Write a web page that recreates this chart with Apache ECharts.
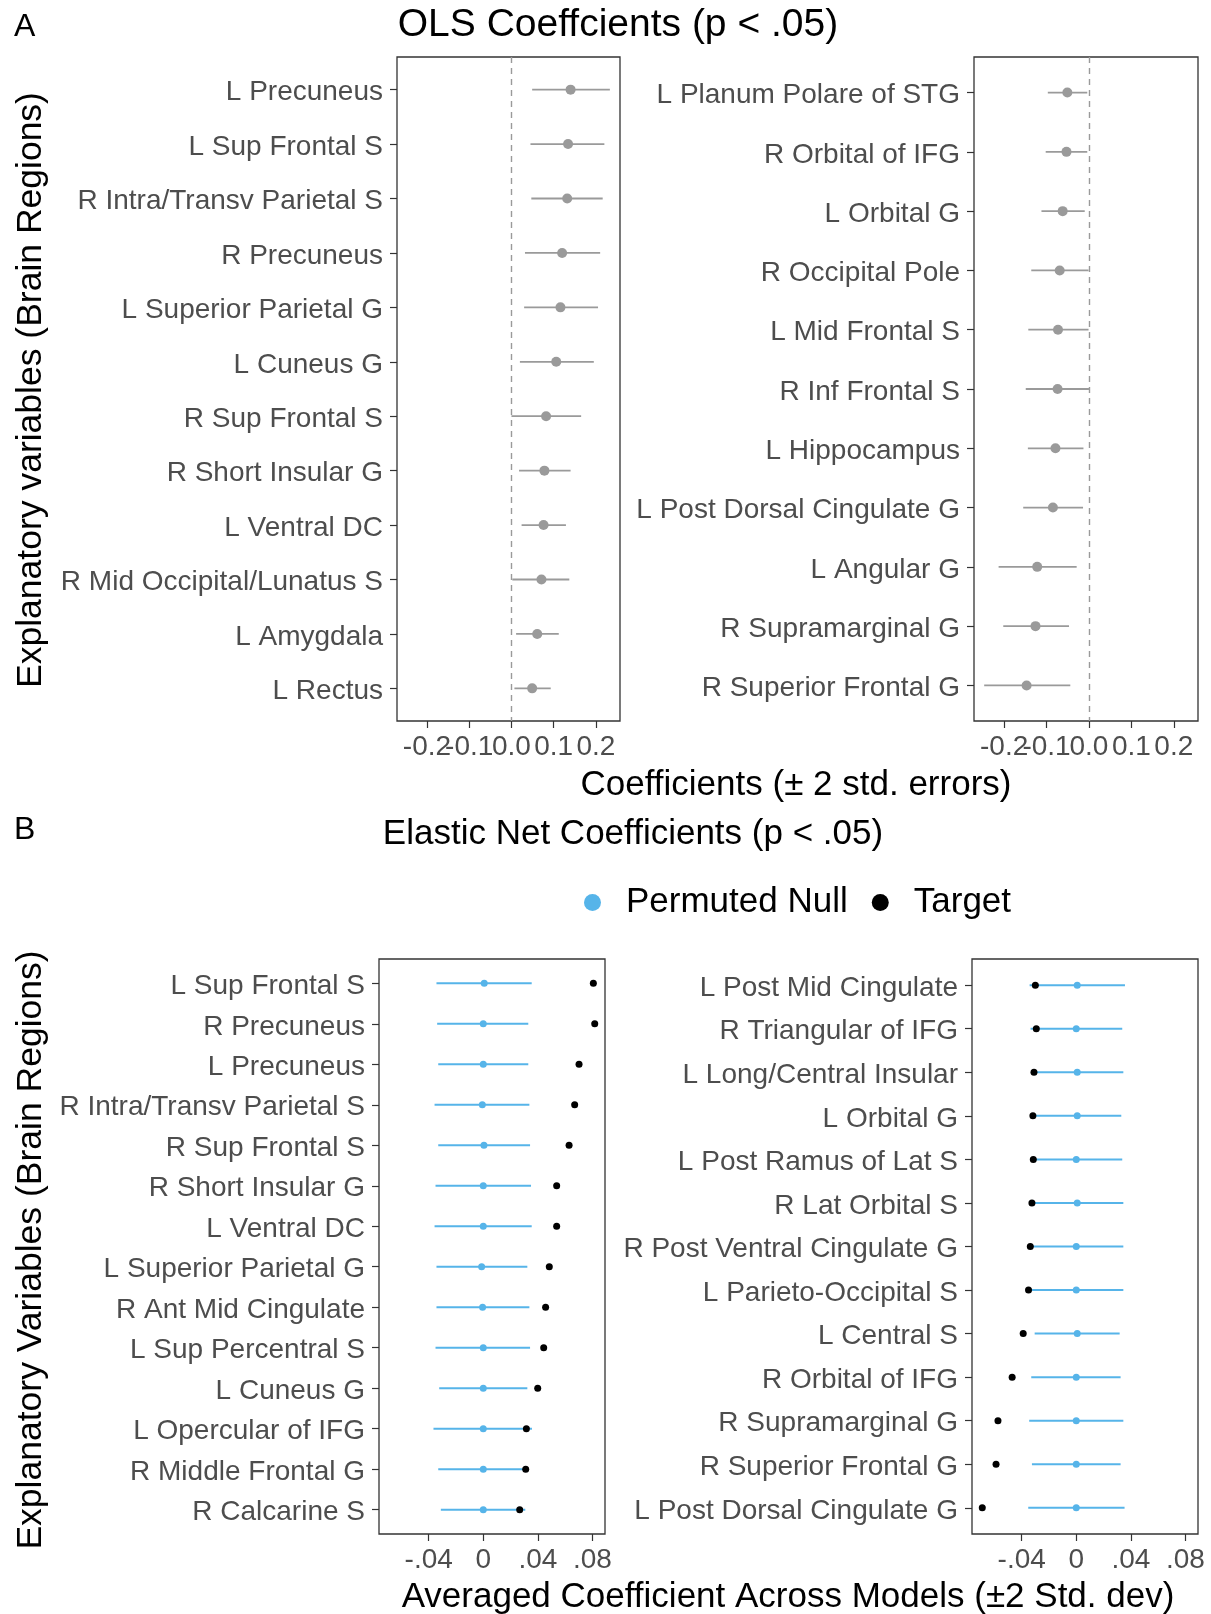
<!DOCTYPE html>
<html>
<head>
<meta charset="utf-8">
<script src="https://cdn.jsdelivr.net/npm/echarts@6/dist/echarts.min.js"></script>
<style>
  html, body { margin: 0; padding: 0; background: #ffffff; }
  #chart { width: 1211px; height: 1614px; }
</style>
</head>
<body>
<div id="chart"></div>
<script>
// ---------- Panel A: OLS coefficients (estimate ± 2 SE) ----------
const olsPosRegions = ['L Precuneus', 'L Sup Frontal S', 'R Intra/Transv Parietal S', 'R Precuneus',
  'L Superior Parietal G', 'L Cuneus G', 'R Sup Frontal S', 'R Short Insular G', 'L Ventral DC',
  'R Mid Occipital/Lunatus S', 'L Amygdala', 'L Rectus'];
const olsPosEstimate = [0.140, 0.134, 0.132, 0.120, 0.116, 0.106, 0.082, 0.078, 0.076, 0.071, 0.061, 0.049];
const olsPosLower    = [0.049, 0.045, 0.047, 0.032, 0.030, 0.020, 0.000, 0.018, 0.024, 0.002, 0.011, 0.007];
const olsPosUpper    = [0.233, 0.220, 0.216, 0.210, 0.205, 0.195, 0.165, 0.140, 0.129, 0.137, 0.112, 0.093];

const olsNegRegions = ['L Planum Polare of STG', 'R Orbital of IFG', 'L Orbital G', 'R Occipital Pole',
  'L Mid Frontal S', 'R Inf Frontal S', 'L Hippocampus', 'L Post Dorsal Cingulate G', 'L Angular G',
  'R Supramarginal G', 'R Superior Frontal G'];
const olsNegEstimate = [-0.051, -0.053, -0.062, -0.069, -0.073, -0.074, -0.079, -0.085, -0.122, -0.126, -0.147];
const olsNegLower    = [-0.097, -0.102, -0.112, -0.136, -0.143, -0.149, -0.144, -0.155, -0.213, -0.202, -0.247];
const olsNegUpper    = [-0.004, -0.004, -0.010, -0.001, -0.001, 0.000, -0.013, -0.014, -0.029, -0.047, -0.044];

const olsTicks = [-0.2, -0.1, 0.0, 0.1, 0.2];

// ---------- Panel B: elastic net (target vs permuted null ± 2 SD) ----------
const enetPosRegions = ['L Sup Frontal S', 'R Precuneus', 'L Precuneus', 'R Intra/Transv Parietal S',
  'R Sup Frontal S', 'R Short Insular G', 'L Ventral DC', 'L Superior Parietal G', 'R Ant Mid Cingulate',
  'L Sup Percentral S', 'L Cuneus G', 'L Opercular of IFG', 'R Middle Frontal G', 'R Calcarine S'];
const enetPosTarget    = [0.0807, 0.0817, 0.0702, 0.0670, 0.0629, 0.0538, 0.0538, 0.0484, 0.0457, 0.0443, 0.0399, 0.0316, 0.0311, 0.0267];
const enetPosNull      = [0.0007, 0.0000, 0.0000, -0.0007, 0.0005, 0.0000, 0.0000, -0.0012, -0.0005, 0.0000, 0.0000, 0.0000, 0.0000, 0.0000];
const enetPosNullLower = [-0.0343, -0.0338, -0.0330, -0.0357, -0.0330, -0.0350, -0.0357, -0.0343, -0.0343, -0.0350, -0.0323, -0.0365, -0.0330, -0.0311];
const enetPosNullUpper = [0.0355, 0.0330, 0.0330, 0.0338, 0.0343, 0.0350, 0.0355, 0.0323, 0.0338, 0.0343, 0.0323, 0.0357, 0.0330, 0.0308];

const enetNegRegions = ['L Post Mid Cingulate', 'R Triangular of IFG', 'L Long/Central Insular', 'L Orbital G',
  'L Post Ramus of Lat S', 'R Lat Orbital S', 'R Post Ventral Cingulate G', 'L Parieto-Occipital S',
  'L Central S', 'R Orbital of IFG', 'R Supramarginal G', 'R Superior Frontal G', 'L Post Dorsal Cingulate G'];
const enetNegTarget    = [-0.0300, -0.0293, -0.0310, -0.0318, -0.0315, -0.0325, -0.0337, -0.0350, -0.0389, -0.0470, -0.0574, -0.0588, -0.0689];
const enetNegNull      = [0.0007, 0.0000, 0.0007, 0.0007, 0.0000, 0.0007, 0.0000, 0.0000, 0.0007, 0.0000, 0.0000, 0.0000, 0.0000];
const enetNegNullLower = [-0.0342, -0.0335, -0.0325, -0.0330, -0.0325, -0.0325, -0.0330, -0.0342, -0.0305, -0.0330, -0.0345, -0.0325, -0.0352];
const enetNegNullUpper = [0.0357, 0.0337, 0.0345, 0.0330, 0.0337, 0.0345, 0.0345, 0.0345, 0.0318, 0.0325, 0.0345, 0.0325, 0.0354];

const enetTicks = [-0.04, 0, 0.04, 0.08];

// ---------- styling ----------
const FONT = "'Liberation Sans', Arial, sans-serif";
const AXIS_TEXT = '#4d4d4d';
const FRAME = '#333333';
const OLS_GREY = '#9a9a9a';
const NULL_BLUE = '#56B4E9';

// shared facet x-range, padded 5% like a ggplot continuous scale
function paddedRange(arrays) {
  const all = [].concat(...arrays);
  const lo = Math.min(...all), hi = Math.max(...all);
  const pad = (hi - lo) * 0.05;
  return [lo - pad, hi + pad];
}
const olsRange = paddedRange([olsPosLower, olsPosUpper, olsNegLower, olsNegUpper, olsPosEstimate, olsNegEstimate]);
const enetRange = paddedRange([enetPosTarget, enetNegTarget, enetPosNullLower, enetPosNullUpper, enetNegNullLower, enetNegNullUpper]);

const fmtOls = v => Number(v).toFixed(1);
const fmtEnet = v => {
  if (Math.abs(v) < 1e-9) return '0';
  return Number(v).toFixed(2).replace('0.', '.');
};

// the OLS tick labels are wider than their spacing, so they are split over two
// coincident bottom axes (even / odd ticks) to keep every label drawn
const olsTicksEven = olsTicks.filter((_, i) => i % 2 === 0);
const olsTicksOdd = olsTicks.filter((_, i) => i % 2 === 1);

const grids = [
  { left: 397, top: 57, width: 223, height: 664 },   // A left
  { left: 974, top: 57, width: 224, height: 664 },   // A right
  { left: 379, top: 959, width: 226, height: 575 },  // B left
  { left: 972, top: 959, width: 226, height: 575 }   // B right
].map(g => Object.assign({ show: true, borderColor: FRAME, borderWidth: 1.3, backgroundColor: '#fff' }, g));

function makeXAxis(gridIndex, range, tickValues, labelValues, fmt, showTicks) {
  return {
    type: 'value', gridIndex, min: range[0], max: range[1], position: 'bottom', offset: 0,
    axisLine: { show: false, onZero: false }, splitLine: { show: false },
    axisTick: { show: showTicks, length: 7, customValues: tickValues, lineStyle: { color: FRAME, width: 1.2 } },
    axisLabel: { customValues: labelValues, formatter: fmt, fontSize: 28, fontFamily: FONT, color: AXIS_TEXT,
      margin: 12, interval: 0, showMinLabel: true, showMaxLabel: true, hideOverlap: false }
  };
}
function makeYAxis(gridIndex, names) {
  const idx = names.map((_, i) => i);
  return {
    type: 'value', gridIndex, inverse: true, min: -0.6, max: names.length - 0.4, position: 'left',
    axisLine: { show: false, onZero: false }, splitLine: { show: false },
    axisTick: { show: true, length: 7, customValues: idx, lineStyle: { color: FRAME, width: 1.2 } },
    axisLabel: {
      customValues: idx, formatter: v => '{n|' + (names[Math.round(v)] || '') + '}',
      margin: 14, interval: 0, showMinLabel: true, showMaxLabel: true, hideOverlap: false,
      rich: { n: { fontSize: 28, fontFamily: FONT, color: AXIS_TEXT, padding: [6, 0, 0, 0] } }
    }
  };
}

// horizontal interval drawn between two x values on a row
function intervalSeries(name, xIdx, yIdx, lower, upper, color, width) {
  return {
    type: 'custom', name, xAxisIndex: xIdx, yAxisIndex: yIdx, silent: true,
    data: lower.map((lo, i) => [lo, upper[i], i]),
    encode: { x: [0, 1], y: 2 },
    renderItem: (params, api) => {
      const a = api.coord([api.value(0), api.value(2)]);
      const b = api.coord([api.value(1), api.value(2)]);
      return { type: 'line', shape: { x1: a[0], y1: a[1], x2: b[0], y2: b[1] },
        style: { stroke: color, lineWidth: width } };
    }
  };
}
function pointSeries(name, xIdx, yIdx, values, color, size, extra) {
  return Object.assign({
    type: 'scatter', name, xAxisIndex: xIdx, yAxisIndex: yIdx, silent: true,
    symbol: 'circle', symbolSize: size, itemStyle: { color, opacity: 1 },
    data: values.map((v, i) => [v, i])
  }, extra || {});
}
const zeroLine = {
  silent: true, symbol: ['none', 'none'], label: { show: false },
  lineStyle: { type: [6, 5], color: '#9a9a9a', width: 1.4, opacity: 1 },
  data: [{ xAxis: 0 }]
};

// x axes: 0/1 odd OLS labels (drawn first), 2/3 main OLS axes, 4/5 elastic net axes
const series = [
  // A left
  intervalSeries('OLS interval (+)', 2, 0, olsPosLower, olsPosUpper, OLS_GREY, 1.8),
  pointSeries('OLS estimate (+)', 2, 0, olsPosEstimate, OLS_GREY, 10, { markLine: zeroLine }),
  // A right
  intervalSeries('OLS interval (-)', 3, 1, olsNegLower, olsNegUpper, OLS_GREY, 1.8),
  pointSeries('OLS estimate (-)', 3, 1, olsNegEstimate, OLS_GREY, 10, { markLine: zeroLine }),
  // B left
  intervalSeries('Null interval (+)', 4, 2, enetPosNullLower, enetPosNullUpper, NULL_BLUE, 2),
  pointSeries('Permuted Null', 4, 2, enetPosNull, NULL_BLUE, 7),
  pointSeries('Target', 4, 2, enetPosTarget, '#000000', 7),
  // B right
  intervalSeries('Null interval (-)', 5, 3, enetNegNullLower, enetNegNullUpper, NULL_BLUE, 2),
  pointSeries('Permuted Null', 5, 3, enetNegNull, NULL_BLUE, 7),
  pointSeries('Target', 5, 3, enetNegTarget, '#000000', 7)
];

function label(text, x, y, size, opts) {
  return Object.assign({
    type: 'text', x, y, silent: true,
    style: { text, fontSize: size, fontFamily: FONT, fill: '#000', align: 'center', verticalAlign: 'middle' }
  }, opts || {});
}
function cornerLetter(text, x, y) {
  return { type: 'text', x, y, silent: true,
    style: { text, fontSize: 32, fontFamily: FONT, fill: '#000', align: 'left', verticalAlign: 'middle' } };
}

const option = {
  animation: false,
  backgroundColor: '#ffffff',
  grid: grids,
  xAxis: [
    makeXAxis(0, olsRange, olsTicksOdd, olsTicksOdd, fmtOls, false),
    makeXAxis(1, olsRange, olsTicksOdd, olsTicksOdd, fmtOls, false),
    makeXAxis(0, olsRange, olsTicks, olsTicksEven, fmtOls, true),
    makeXAxis(1, olsRange, olsTicks, olsTicksEven, fmtOls, true),
    makeXAxis(2, enetRange, enetTicks, enetTicks, fmtEnet, true),
    makeXAxis(3, enetRange, enetTicks, enetTicks, fmtEnet, true)
  ],
  yAxis: [
    makeYAxis(0, olsPosRegions),
    makeYAxis(1, olsNegRegions),
    makeYAxis(2, enetPosRegions),
    makeYAxis(3, enetNegRegions)
  ],
  legend: {
    data: ['Permuted Null', 'Target'],
    left: 579, top: 880, icon: 'circle', itemWidth: 17, itemHeight: 17, itemGap: 24,
    selectedMode: false,
    textStyle: { fontSize: 35, fontFamily: FONT, color: '#000', padding: [0, 0, 0, 20] }
  },
  graphic: [
    cornerLetter('A', 14, 27),
    label('OLS Coeffcients (p < .05)', 618, 25, 39),
    label('Explanatory variables (Brain Regions)', 31, 390, 35.5, { rotation: Math.PI / 2 }),
    label('Coefficients (± 2 std. errors)', 796, 785, 35),
    cornerLetter('B', 14, 830),
    label('Elastic Net Coefficients (p < .05)', 633, 834, 35),
    label('Explanatory Variables (Brain Regions)', 31, 1250, 35.5, { rotation: Math.PI / 2 }),
    label('Averaged Coefficient Across Models (±2 Std. dev)', 788, 1597, 35)
  ],
  series
};

const chart = echarts.init(document.getElementById('chart'), null, { renderer: 'canvas' });
chart.setOption(option);
</script>
</body>
</html>
